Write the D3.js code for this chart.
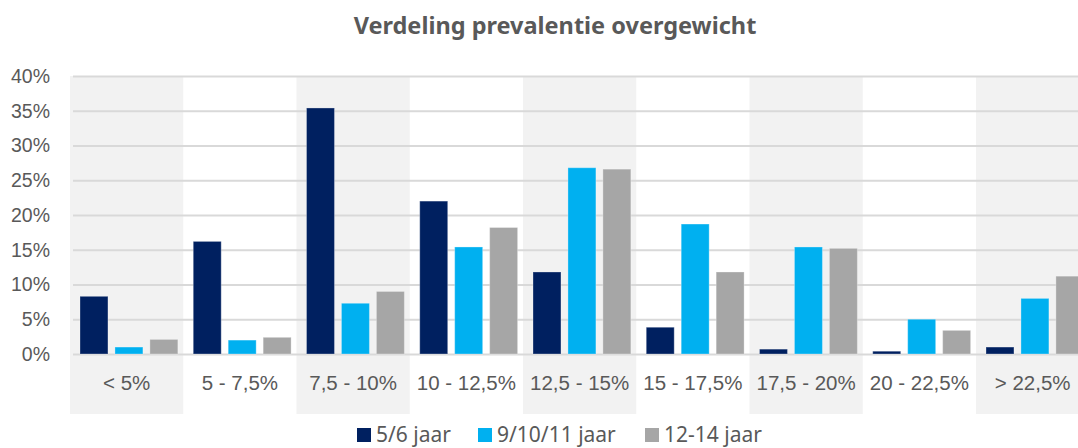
<!DOCTYPE html>
<html>
<head>
<meta charset="utf-8">
<script src="https://cdn.jsdelivr.net/npm/d3@7"></script>
<style>
  body { margin: 0; background: #fff; }
  svg { display: block; font-family: "Noto Sans", sans-serif; }
</style>
</head>
<body>
<svg id="chart" width="1078" height="448"></svg>
<script>
const categories = ['< 5%', '5 - 7,5%', '7,5 - 10%', '10 - 12,5%', '12,5 - 15%', '15 - 17,5%', '17,5 - 20%', '20 - 22,5%', '> 22,5%'];
const seriesNames = ['5/6 jaar', '9/10/11 jaar', '12-14 jaar'];
const age56 = [8.3, 16.2, 35.4, 22.0, 11.8, 3.85, 0.7, 0.4, 1.0];
const age91011 = [1.0, 2.0, 7.3, 15.4, 26.8, 18.7, 15.4, 5.0, 8.0];
const age1214 = [2.1, 2.4, 9.0, 18.2, 26.6, 11.8, 15.2, 3.4, 11.2];
const yTicks = [0, 5, 10, 15, 20, 25, 30, 35, 40];
const colors = ['#002060', '#00b0f0', '#a6a6a6'];

const seriesValues = [age56, age91011, age1214];
const rows = categories.map((c, i) => ({
  cat: c,
  vals: seriesNames.map((s, j) => ({ key: s, value: seriesValues[j][i] }))
}));

const margin = { top: 76, left: 70 };
const step = 113.25;
const plotW = step * categories.length;
const plotBottom = 354;
const labelBottom = 414;

const svg = d3.select('#chart');

const x = d3.scaleBand()
  .domain(categories)
  .range([margin.left, margin.left + plotW]);

const x1 = d3.scaleBand()
  .domain(seriesNames)
  .range([0, x.bandwidth()])
  .paddingInner(0.2)
  .paddingOuter(0.22)
  .align(0.65);

const y = d3.scaleLinear()
  .domain([0, 40])
  .range([plotBottom, margin.top]);

const color = d3.scaleOrdinal().domain(seriesNames).range(colors);

// alternating shaded bands
svg.append('g')
  .selectAll('rect')
  .data(categories.filter((d, i) => i % 2 === 0))
  .join('rect')
    .attr('x', d => x(d))
    .attr('y', y(40))
    .attr('width', x.bandwidth())
    .attr('height', labelBottom - y(40))
    .attr('fill', '#f2f2f2');

// gridlines + y labels
const yAxis = svg.append('g')
  .attr('transform', `translate(${margin.left + 3},0)`)
  .call(d3.axisLeft(y).tickValues(yTicks).tickSize(-(plotW)).tickFormat(d => d + '%'));
yAxis.select('.domain').remove();
yAxis.selectAll('.tick line').attr('stroke', '#d9d9d9').attr('stroke-width', 2);
yAxis.selectAll('.tick text')
  .attr('x', -23)
  .attr('fill', '#595959')
  .style('font-size', '19.5px');

// bars
svg.append('g')
  .selectAll('g')
  .data(rows)
  .join('g')
    .attr('transform', d => `translate(${x(d.cat)},0)`)
  .selectAll('rect')
  .data(d => d.vals)
  .join('rect')
    .attr('x', d => x1(d.key))
    .attr('y', d => y(d.value))
    .attr('width', x1.bandwidth())
    .attr('height', d => y(0) - y(d.value))
    .attr('fill', d => color(d.key))
    .attr('stroke', '#ffffff')
    .attr('stroke-opacity', 0.3)
    .attr('stroke-width', 1);

// category labels
const xAxis = svg.append('g')
  .attr('transform', `translate(0,${plotBottom})`)
  .call(d3.axisBottom(x).tickSize(0).tickPadding(21));
xAxis.select('.domain').remove();
xAxis.selectAll('.tick text')
  .attr('fill', '#595959')
  .style('font-size', '20.5px');

// title
svg.append('text')
  .attr('x', 555)
  .attr('y', 34)
  .attr('text-anchor', 'middle')
  .attr('fill', '#595959')
  .style('font-size', '23.5px')
  .style('font-weight', 'bold')
  .text('Verdeling prevalentie overgewicht');

// legend (nudged up a little so the descenders stay inside the frame)
const legendX = [357, 478, 645];
const legend = svg.append('g')
  .selectAll('g')
  .data(seriesNames)
  .join('g')
    .attr('transform', (d, i) => `translate(${legendX[i]},442)`);
legend.append('rect')
  .attr('y', -14)
  .attr('width', 14)
  .attr('height', 14)
  .attr('fill', d => color(d));
legend.append('text')
  .attr('x', 19)
  .attr('fill', '#595959')
  .style('font-size', '21px')
  .text(d => d);
</script>
</body>
</html>
